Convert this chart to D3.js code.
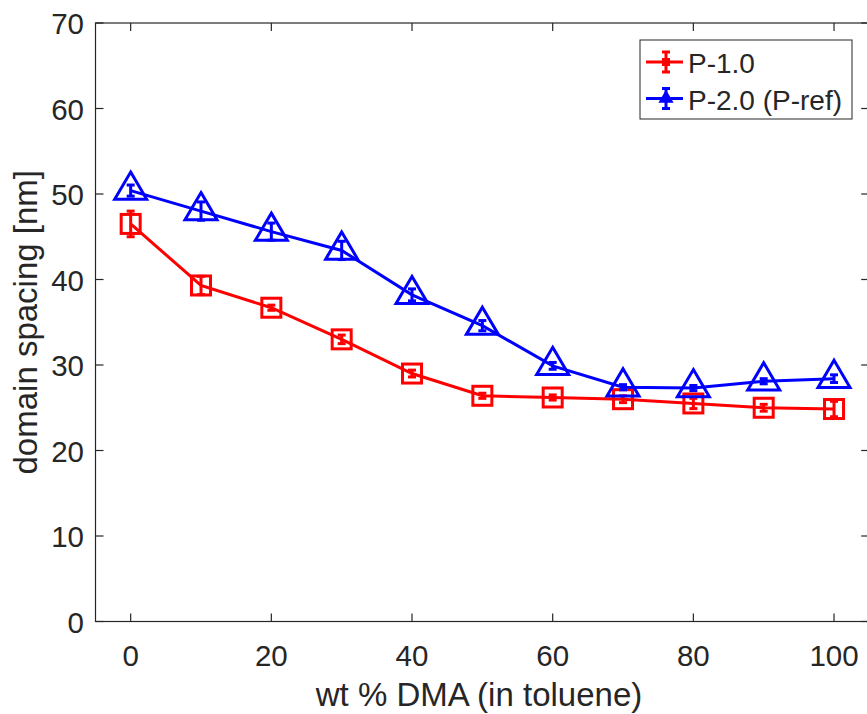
<!DOCTYPE html>
<html>
<head>
<meta charset="utf-8">
<script src="https://cdn.jsdelivr.net/npm/d3@7"></script>
<style>
  body { margin: 0; background: #fff; }
  svg text { font-family: "Liberation Sans", Arial, sans-serif; fill: #262626; }
</style>
</head>
<body>
<svg id="chart" width="867" height="714"></svg>
<script>
// data
var dmaPct = [0, 10, 20, 30, 40, 50, 60, 70, 80, 90, 100];
var p10 = [46.5, 39.3, 36.7, 33.0, 29.0, 26.4, 26.2, 26.0, 25.5, 25.0, 24.85];
var p10Err = [1.5, 1.07, 0.3, 0.5, 0.4, 0.3, 0.3, 0.4, 0.6, 0.4, 0.9];
var p20 = [50.4, 48.0, 45.6, 43.4, 38.2, 34.6, 29.9, 27.4, 27.3, 28.1, 28.4];
var p20Err = [0.65, 1.07, 1.0, 1.07, 0.7, 0.6, 0.4, 0.3, 0.3, 0.3, 0.45];
var xTicks = [0, 20, 40, 60, 80, 100];
var yTicks = [0, 10, 20, 30, 40, 50, 60, 70];

var series = [
  { name: "P-1.0", y: p10, err: p10Err, color: "#ff0000", marker: "square" },
  { name: "P-2.0 (P-ref)", y: p20, err: p20Err, color: "#0000ff", marker: "triangle" }
];

var svg = d3.select("#chart");
var x = d3.scaleLinear().domain([-5, 105]).range([95.5, 869.2]);
var y = d3.scaleLinear().domain([0, 70]).range([621.5, 23]);
var axisColor = "#262626";
var lw = 3;

// box
svg.append("rect")
  .attr("x", x(-5)).attr("y", y(70))
  .attr("width", x(105) - x(-5)).attr("height", y(0) - y(70))
  .attr("fill", "none").attr("stroke", axisColor).attr("stroke-width", 1.2);

// ticks (inward, on all four sides)
var tickLen = 8;
xTicks.forEach(function (t) {
  svg.append("line").attr("x1", x(t)).attr("x2", x(t))
    .attr("y1", y(0)).attr("y2", y(0) - tickLen)
    .attr("stroke", axisColor).attr("stroke-width", 1.2);
  svg.append("line").attr("x1", x(t)).attr("x2", x(t))
    .attr("y1", y(70)).attr("y2", y(70) + tickLen)
    .attr("stroke", axisColor).attr("stroke-width", 1.2);
  svg.append("text").attr("x", x(t)).attr("y", y(0) + 44.5)
    .attr("text-anchor", "middle").attr("font-size", 29.5).text(t);
});
yTicks.forEach(function (t) {
  svg.append("line").attr("x1", x(-5)).attr("x2", x(-5) + tickLen)
    .attr("y1", y(t)).attr("y2", y(t))
    .attr("stroke", axisColor).attr("stroke-width", 1.2);
  svg.append("line").attr("x1", x(105)).attr("x2", x(105) - tickLen)
    .attr("y1", y(t)).attr("y2", y(t))
    .attr("stroke", axisColor).attr("stroke-width", 1.2);
  svg.append("text").attr("x", x(-5) - 11.5).attr("y", y(t) + 11)
    .attr("text-anchor", "end").attr("font-size", 29.5).text(t);
});

// axis labels
svg.append("text").attr("x", 479).attr("y", 706)
  .attr("text-anchor", "middle").attr("font-size", 33).text("wt % DMA (in toluene)");
svg.append("text")
  .attr("transform", "translate(37," + (y(35)) + ") rotate(-90)")
  .attr("text-anchor", "middle").attr("font-size", 33).text("domain spacing [nm]");

function drawMarker(g, kind, cx, cy, size, color, filled) {
  if (kind === "square") {
    g.append("rect").attr("x", cx - size / 2).attr("y", cy - size / 2)
      .attr("width", size).attr("height", size)
      .attr("fill", filled ? color : "none").attr("stroke", color).attr("stroke-width", lw);
  } else {
    var h = size * 0.85;
    g.append("path")
      .attr("d", "M" + cx + "," + (cy - h * 0.68) + "L" + (cx + size / 2) + "," + (cy + h * 0.32) +
        "L" + (cx - size / 2) + "," + (cy + h * 0.32) + "Z")
      .attr("fill", filled ? color : "none").attr("stroke", color).attr("stroke-width", lw)
      .attr("stroke-linejoin", "miter");
  }
}

var line = d3.line().x(function (d) { return x(d[0]); }).y(function (d) { return y(d[1]); });

series.forEach(function (s) {
  var g = svg.append("g");
  var pts = dmaPct.map(function (v, i) { return [v, s.y[i], s.err[i]]; });
  g.append("path").datum(pts).attr("d", line)
    .attr("fill", "none").attr("stroke", s.color).attr("stroke-width", lw);
  pts.forEach(function (p) {
    var cx = x(p[0]);
    g.append("line").attr("x1", cx).attr("x2", cx)
      .attr("y1", y(p[1] - p[2])).attr("y2", y(p[1] + p[2]))
      .attr("stroke", s.color).attr("stroke-width", lw);
    [p[1] - p[2], p[1] + p[2]].forEach(function (e) {
      g.append("line").attr("x1", cx - 4).attr("x2", cx + 4)
        .attr("y1", y(e)).attr("y2", y(e))
        .attr("stroke", s.color).attr("stroke-width", lw);
    });
    drawMarker(g, s.marker, cx, y(p[1]), s.marker === "square" ? 19 : 32, s.color, false);
  });
});

// legend
var lg = svg.append("g");
lg.append("rect").attr("x", 640).attr("y", 40).attr("width", 212).attr("height", 79)
  .attr("fill", "#fff").attr("stroke", axisColor).attr("stroke-width", 1);
series.forEach(function (s, i) {
  var ly = 62 + i * 36.5;
  lg.append("line").attr("x1", 646).attr("x2", 683).attr("y1", ly).attr("y2", ly)
    .attr("stroke", s.color).attr("stroke-width", lw);
  lg.append("line").attr("x1", 666).attr("x2", 666).attr("y1", ly - 10).attr("y2", ly + 10)
    .attr("stroke", s.color).attr("stroke-width", lw);
  [ly - 10, ly + 10].forEach(function (e) {
    lg.append("line").attr("x1", 662).attr("x2", 670).attr("y1", e).attr("y2", e)
      .attr("stroke", s.color).attr("stroke-width", lw);
  });
  drawMarker(lg, s.marker, 666, ly, s.marker === "square" ? 5 : 10, s.color, true);
  lg.append("text").attr("x", 688).attr("y", ly + 11).attr("font-size", 28).text(s.name);
});
</script>
</body>
</html>
